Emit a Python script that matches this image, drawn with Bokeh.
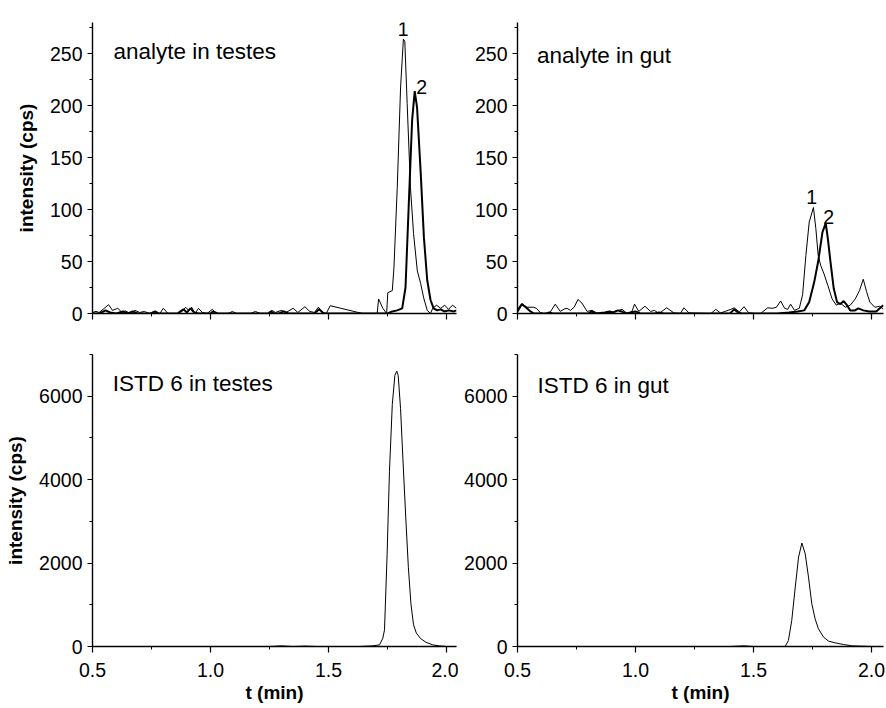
from bokeh.plotting import figure
from bokeh.models import Range1d, SingleIntervalTicker, Label, CustomJSTickFormatter, PrintfTickFormatter
from bokeh.layouts import column, row
from bokeh.embed import file_html
from bokeh.resources import INLINE

FONT = "Liberation Sans"

# ---------------- data ----------------
# analyte in testes, transition 1 (thin) and transition 2 (thick)
testes_t1 = [0.50, 0.515, 0.528, 0.545, 0.568, 0.585, 0.607, 0.625, 0.64, 0.66, 0.68, 0.70, 0.72, 0.74,
             0.76, 0.785, 0.80, 0.82, 0.86, 0.88, 0.895, 0.907, 0.92, 0.935, 0.949, 0.965, 0.985, 1.008,
             1.025, 1.075, 1.093, 1.11, 1.17, 1.19, 1.21, 1.245, 1.26, 1.275, 1.30, 1.32, 1.35, 1.37, 1.40,
             1.42, 1.44, 1.457, 1.475, 1.49, 1.507, 1.644, 1.706, 1.712, 1.73, 1.746, 1.751, 1.770, 1.777,
             1.791, 1.805, 1.817, 1.823, 1.833, 1.847, 1.860, 1.876, 1.890, 1.903, 1.918, 1.932, 1.941,
             1.958, 1.975, 1.992, 2.008, 2.025, 2.042]
testes_v1 = [1, 2, 1, 4, 8.5, 3, 5, 1, 2.5, 0, 3, 1, 2, 0,
             2, 0, 5, 0, 0, 2, 6, 3, 6, 0, 5, 1, 0, 4,
             0, 0, 2, 0, 0, 2, 0, 0, 3, 1, 3, 1, 5, 1, 6.5,
             2, 1, 6, 1, 0, 7.5, 0, 0, 14, 5, 0, 20, 22, 44,
             121, 217, 264, 262, 202, 121, 77, 41, 29, 15, 3, 0, 5,
             8, 5, 8, 4, 8, 5]
testes_t2 = [0.50, 0.53, 0.555, 0.575, 0.60, 0.63, 0.65, 0.67, 0.69, 0.75, 0.765, 0.78, 0.86, 0.885,
             0.90, 0.915, 0.93, 0.95, 1.00, 1.01, 1.03, 1.245, 1.255, 1.27, 1.29, 1.31, 1.33, 1.44, 1.46,
             1.48, 1.75, 1.77, 1.791, 1.812, 1.826, 1.840, 1.854, 1.865, 1.875, 1.890, 1.904, 1.918,
             1.932, 1.945, 1.96, 1.975, 1.99, 2.01, 2.03, 2.042]
testes_v2 = [0, 0, 3, 1, 0, 2, 0, 2, 0, 0, 2, 0, 0, 4,
             1, 5, 1, 0, 0, 2, 0, 0, 2, 0, 0, 2, 0, 0, 4,
             0, 0, 2, 3, 5, 25, 106, 186, 214, 198, 137, 73, 32,
             13, 5, 3, 4, 2, 3, 2, 3]

# analyte in gut
gut_t1 = [0.50, 0.518, 0.54, 0.568, 0.58, 0.596, 0.61, 0.635, 0.66, 0.681, 0.70, 0.71, 0.724, 0.74,
          0.756, 0.773, 0.795, 0.816, 0.84, 0.87, 0.90, 0.943, 0.965, 0.985, 0.996, 1.014, 1.04, 1.064,
          1.08, 1.10, 1.132, 1.163, 1.19, 1.205, 1.227, 1.30, 1.32, 1.34, 1.36, 1.38, 1.404, 1.418, 1.44,
          1.46, 1.48, 1.51, 1.53, 1.56, 1.58, 1.597, 1.615, 1.632, 1.645, 1.657, 1.674, 1.694, 1.708,
          1.722, 1.736, 1.754, 1.764, 1.774, 1.785, 1.799, 1.815, 1.833, 1.851, 1.868, 1.889, 1.910,
          1.931, 1.949, 1.965, 1.979, 1.993, 2.014, 2.035, 2.05]
gut_v1 = [4, 9.5, 6, 6, 5, 1, 0, 0, 9, 2, 4.5, 5, 3, 6,
          13.5, 10, 2, 3, 0, 1, 1, 4, 0, 2, 9, 2, 7, 2,
          3, 0, 5.5, 0.5, 0, 5.5, 0.5, 0, 0, 4, 0.5, 2, 4, 5.5, 1.5,
          6.5, 0.5, 0, 0, 5.5, 5, 6, 12, 5, 4, 9, 3, 5, 18,
          56, 88, 102, 82, 56, 46, 38, 27, 14, 8, 10, 6, 8,
          14, 22, 33, 21, 11, 6, 7, 4]
gut_t2 = [0.50, 0.518, 0.535, 0.555, 0.57, 0.62, 0.635, 0.65, 0.80, 0.815, 0.83, 0.87, 0.89, 0.905,
          0.925, 0.94, 0.96, 1.00, 1.02, 1.08, 1.10, 1.12, 1.40, 1.418, 1.435, 1.45, 1.60, 1.65, 1.6875,
          1.715, 1.736, 1.757, 1.774, 1.792, 1.806, 1.815, 1.826, 1.840, 1.854, 1.868, 1.882, 1.896,
          1.910, 1.93, 1.944, 1.965, 1.99, 2.02, 2.035, 2.05]
gut_v2 = [2, 9, 6, 2, 0, 0, 1, 0, 0, 2, 0, 1, 2, 1,
          3, 2, 0, 2, 0, 0, 1, 0, 0, 4, 1, 0, 0, 1, 2,
          3, 11, 30, 50, 78, 87, 72, 50, 24, 11, 9, 12, 8,
          3, 3, 5, 3, 2, 2, 5, 8]

# internal standard (ISTD 6)
istd_testes_t = [0.50, 1.25, 1.30, 1.35, 1.40, 1.45, 1.631, 1.688, 1.716, 1.730, 1.737, 1.748, 1.758,
                 1.770, 1.781, 1.789, 1.795, 1.805, 1.815, 1.827, 1.838, 1.849, 1.860, 1.872, 1.890,
                 1.913, 1.941, 1.969, 2.0, 2.042]
istd_testes_v = [0, 0, 15, 0, 10, 0, 0, 16, 40, 200, 400, 2200, 4200,
                 5800, 6500, 6600, 6500, 5700, 4500, 3100, 1900, 1020, 520, 320, 190,
                 100, 40, 15, 0, 0]
istd_gut_t = [0.50, 1.40, 1.46, 1.50, 1.634, 1.648, 1.662, 1.677, 1.691, 1.705, 1.719, 1.733, 1.747,
              1.761, 1.775, 1.797, 1.818, 1.846, 1.881, 1.917, 1.959, 2.0, 2.05]
istd_gut_v = [0, 0, 16, 0, 0, 144, 624, 1424, 2144, 2480, 2224, 1664, 1024,
              664, 424, 224, 128, 88, 48, 16, 8, 0, 0]

top_tick_step = 50
bottom_tick_step = 2000
x_tick_step = 0.5
y_label = "intensity (cps)"
x_label = "t (min)"


def make_fig(width, height, bl, br, bt, bb, xmax, ymax, yint, show_xlabels, ylab=None, xlab=None):
    p = figure(width=width, height=height, output_backend="svg", toolbar_location=None,
               x_range=Range1d(0.5, xmax), y_range=Range1d(0, ymax),
               min_border_left=bl, min_border_right=br, min_border_top=bt, min_border_bottom=bb)
    p.outline_line_color = None
    p.xgrid.visible = False
    p.ygrid.visible = False
    p.xaxis.ticker = SingleIntervalTicker(interval=x_tick_step, num_minor_ticks=2)
    p.yaxis.ticker = SingleIntervalTicker(interval=yint, num_minor_ticks=2)
    for ax in (p.xaxis[0], p.yaxis[0]):
        ax.axis_line_color = "black"
        ax.axis_line_width = 1.4
        ax.major_tick_line_color = "black"
        ax.major_tick_line_width = 1.2
        ax.minor_tick_line_color = "black"
        ax.minor_tick_line_width = 1
        ax.major_tick_in = 0
        ax.minor_tick_in = 0
        ax.minor_tick_out = 3
        ax.major_label_text_font = FONT
        ax.major_label_text_font_size = "19.5px"
        ax.major_label_text_color = "black"
        ax.axis_label_text_font = FONT
        ax.axis_label_text_font_size = "19px"
        ax.axis_label_text_font_style = "bold"
        ax.axis_label_text_color = "black"
    p.yaxis.major_tick_out = 5
    p.yaxis.major_label_standoff = 5
    p.xaxis.major_tick_out = 6
    p.xaxis.major_label_standoff = 10
    if ylab:
        p.yaxis.axis_label = ylab
        p.yaxis.axis_label_standoff = 10
    if xlab:
        p.xaxis.axis_label = xlab
        p.xaxis.axis_label_standoff = 2
    if show_xlabels:
        p.xaxis.formatter = PrintfTickFormatter(format="%.1f")
    else:
        p.xaxis.formatter = CustomJSTickFormatter(code="return ''")
    return p


def add_text(p, x, y, text, size="19.5px", align="left"):
    p.add_layout(Label(x=x, y=y, text=text, text_font=FONT, text_font_size=size,
                       text_color="black", text_align=align, text_baseline="alphabetic"))


# top-left
p1 = make_fig(458, 345, 92, 2, 22, 32, 2.042, 280, top_tick_step, False, ylab=y_label)
p1.line(testes_t1, testes_v1, line_color="black", line_width=1)
p1.line(testes_t2, testes_v2, line_color="black", line_width=2)
add_text(p1, 0.589, 252, "analyte in testes", size="22.5px")
add_text(p1, 1.816, 274, "1", align="center")
add_text(p1, 1.894, 218, "2", align="center")

# top-right
p2 = make_fig(428, 345, 59, 3, 22, 32, 2.0508, 280, top_tick_step, False)
p2.line(gut_t1, gut_v1, line_color="black", line_width=1)
p2.line(gut_t2, gut_v2, line_color="black", line_width=2)
add_text(p2, 0.583, 248, "analyte in gut", size="22.5px")
add_text(p2, 1.746, 112, "1", align="center")
add_text(p2, 1.818, 93, "2", align="center")

# bottom-left
p3 = make_fig(458, 363, 92, 2, 9, 62, 2.042, 7000, bottom_tick_step, True, ylab=y_label, xlab=x_label)
p3.line(istd_testes_t, istd_testes_v, line_color="black", line_width=1)
add_text(p3, 0.586, 6304, "ISTD 6 in testes", size="22.5px")

# bottom-right
p4 = make_fig(428, 363, 59, 3, 9, 62, 2.0508, 7000, bottom_tick_step, True, xlab=x_label)
p4.line(istd_gut_t, istd_gut_v, line_color="black", line_width=1)
add_text(p4, 0.585, 6264, "ISTD 6 in gut", size="22.5px")

layout = column(row(p1, p2, spacing=0), row(p3, p4, spacing=0), spacing=0)

open("out.html", "w").write(file_html(layout, INLINE))
